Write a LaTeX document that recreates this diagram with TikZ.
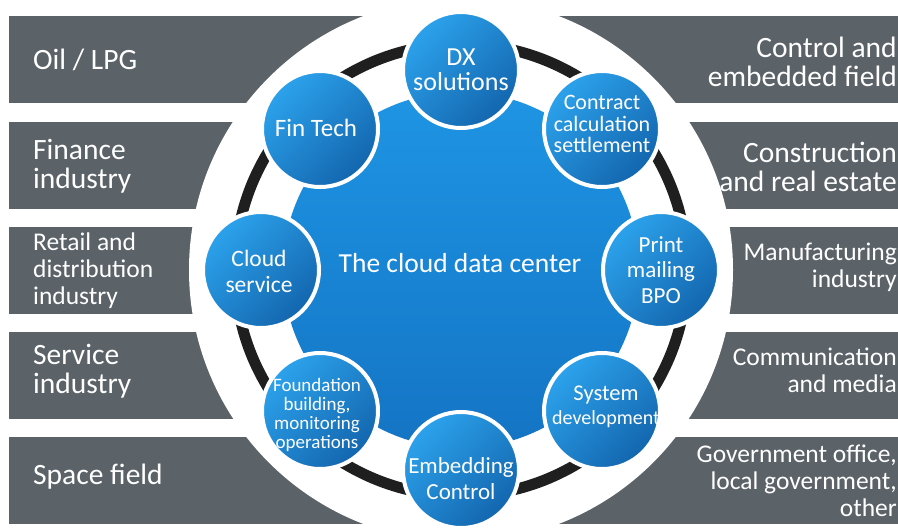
\documentclass[tikz,border=0pt]{standalone}
\usepackage{fontspec}
\setmainfont{Carlito}
\definecolor{bargray}{HTML}{5B6268}
\definecolor{ringblack}{HTML}{1F1F1F}
\definecolor{blueA}{HTML}{2CA2EC}
\definecolor{blueB}{HTML}{1366AE}
\definecolor{centerA}{HTML}{1E95E4}
\definecolor{centerB}{HTML}{1474C4}
\begin{document}
\begin{tikzpicture}[x=1pt,y=-1pt,
  bar/.style={fill=bargray, draw=none},
  sidetext/.style={text=white, inner sep=0pt},
  lefttext/.style={sidetext, anchor=west, align=left},
  righttext/.style={sidetext, anchor=east, align=right},
  bigfont/.style={font=\fontsize{29.5}{28.5}\selectfont},
  smallfont/.style={font=\fontsize{25.5}{27}\selectfont},
  hub/.style={circle, minimum size=116pt, inner sep=0pt, draw=white, line width=4pt,
    top color=blueA, bottom color=blueB, shading angle=45},
  hubtext/.style={text=white, align=center, inner sep=0pt},
]
\useasboundingbox (0,0) rectangle (898,528);
\clip (0,0) rectangle (898,528);
\fill[white] (0,0) rectangle (898,528);
% gray bars
\foreach \t/\b in {16/103,122/209,227/314,332/419,437/524}{
  \fill[bar] (9,\t) rectangle (461,\b);
  \fill[bar] (461,\t) rectangle (900,\b);
}
% white disk
\fill[white] (461,270) circle (272pt);
% black ring
\draw[ringblack, line width=11pt] (461,270) circle (226pt);
% center circle
\node[circle, minimum size=356pt, inner sep=0pt, top color=centerA, bottom color=centerB] (c0) at (461,270) {};
\node[hubtext, font=\fontsize{27.5}{28}\selectfont] (c0t) at (460,263) {The cloud data center};
% satellites
\node[hub] (s1) at (461,70) {};
\node[hub] (s2) at (602,129) {};
\node[hub] (s3) at (661,270) {};
\node[hub] (s4) at (602,411) {};
\node[hub] (s5) at (461,470) {};
\node[hub] (s6) at (320,411) {};
\node[hub] (s7) at (261,270) {};
\node[hub] (s8) at (320,129) {};
\node[hubtext, font=\fontsize{26}{25.5}\selectfont] (t1) at (461,70) {DX\\solutions};
\node[hubtext, font=\fontsize{22}{21.5}\selectfont] (t2) at (602,124) {Contract\\calculation\\settlement};
\node[hubtext, font=\fontsize{23}{25.5}\selectfont] (t3) at (661,270) {Print\\mailing\\BPO};
\node[hubtext, font=\fontsize{22.5}{24}\selectfont] (t4) at (606,407) {System\\{\fontsize{20}{24}\selectfont development}};
\node[hubtext, font=\fontsize{23}{26}\selectfont] (t5) at (461,479) {Embedding\\Control};
\node[hubtext, font=\fontsize{19}{19}\selectfont] (t6) at (317,415) {Foundation\\building,\\monitoring\\operations};
\node[hubtext, font=\fontsize{23.5}{26}\selectfont] (t7) at (259,271) {Cloud\\service};
\node[hubtext, font=\fontsize{25}{26}\selectfont] (t8) at (316,128) {Fin Tech};
% left texts
\node[lefttext, bigfont] (l1) at (33,60) {Oil / LPG};
\node[lefttext, bigfont] (l2) at (33,166) {Finance\\industry};
\node[lefttext, smallfont] (l3) at (33,271) {Retail and\\distribution\\industry};
\node[lefttext, bigfont] (l4) at (33,371) {Service\\industry};
\node[lefttext, bigfont] (l5) at (33,477) {Space field};
% right texts
\node[righttext, bigfont] (r1) at (897,62) {Control and\\embedded field};
\node[righttext, bigfont] (r2) at (897,167) {Construction\\and real estate};
\node[righttext, smallfont] (r3) at (897,267) {Manufacturing\\industry};
\node[righttext, smallfont] (r4) at (897,370) {Communication\\and media};
\node[righttext, smallfont] (r5) at (897,481) {Government office,\\local government,\\other};
\end{tikzpicture}
\end{document}
